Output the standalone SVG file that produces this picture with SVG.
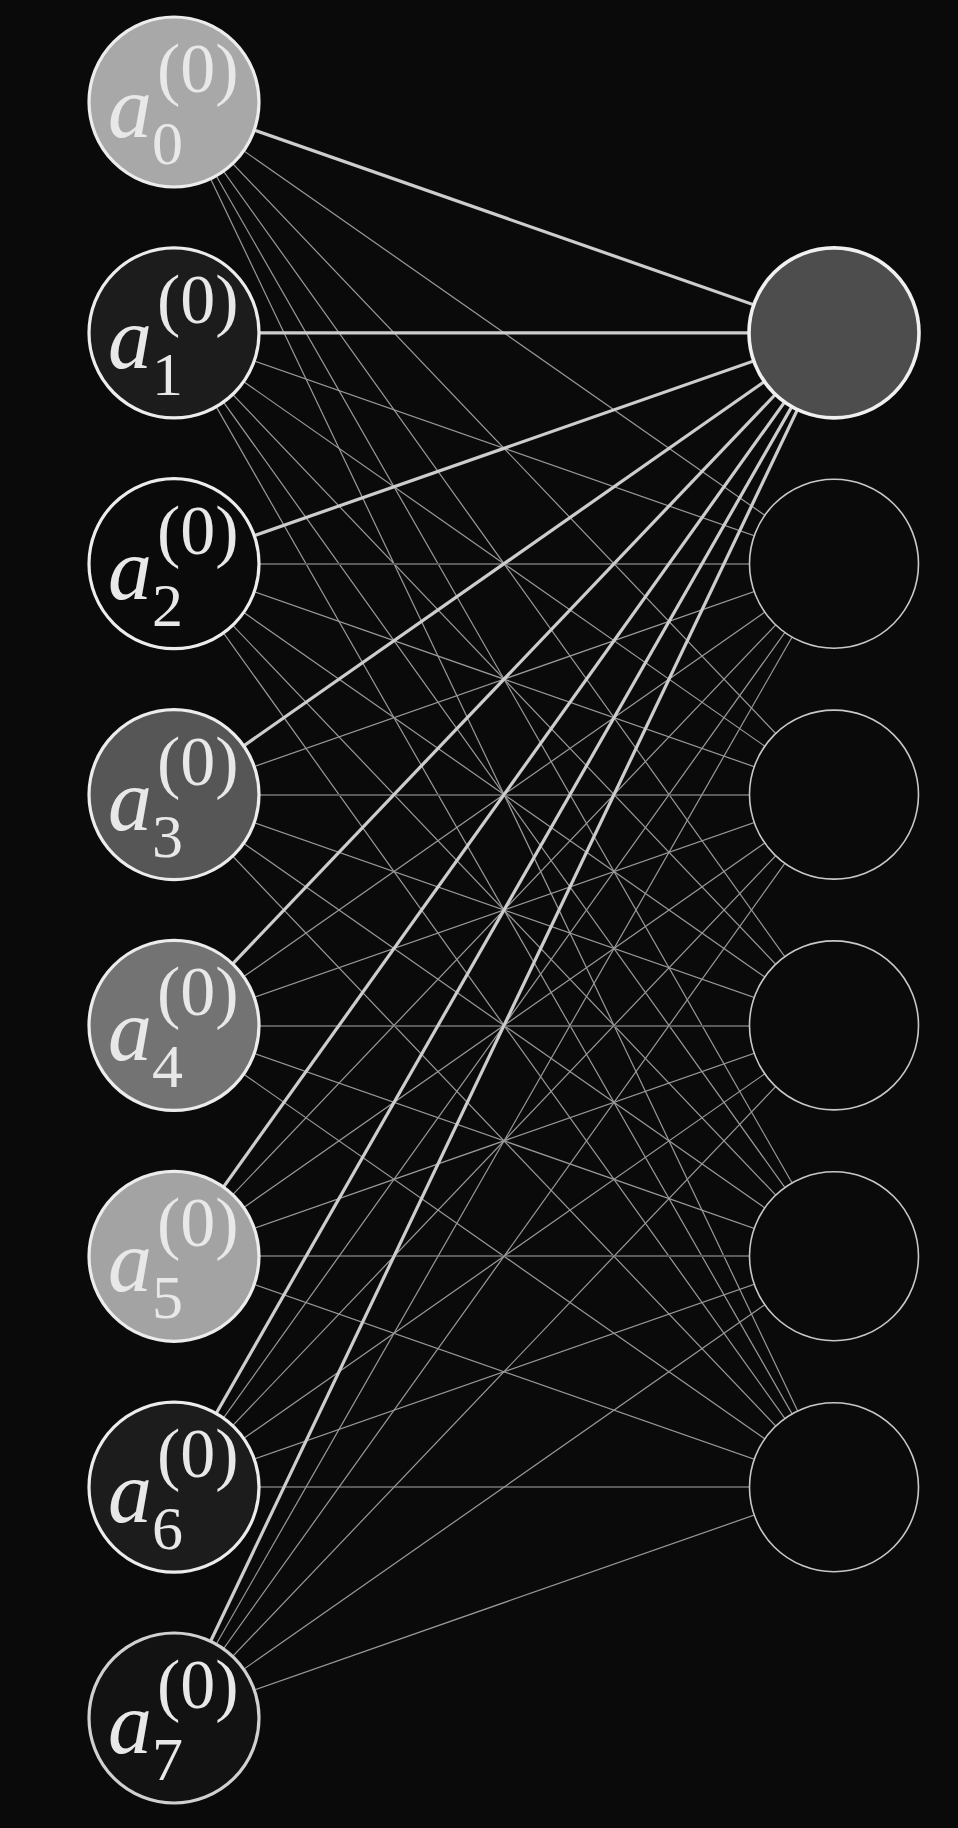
<svg xmlns="http://www.w3.org/2000/svg" width="958" height="1828" viewBox="0 0 958 1828">
<style>
.bg{fill:#0a0a0a}
.w{stroke:#9a9a9a;stroke-width:1.2;fill:none}
.h{stroke:#5a5a5a;stroke-width:1.8;fill:none}
.s{stroke:#cdcdcd;stroke-width:3.2;fill:none}
.in{stroke:#ececec;stroke-width:3.2}
.out{stroke:#c8c8c8;stroke-width:1.6;fill:#0a0a0a}
.out0{stroke:#f0f0f0;stroke-width:3.6;fill:#4d4d4d}
.a{font-family:"Liberation Serif",serif;font-style:italic;font-size:88px;fill:#e8e8e8}
.sub{font-family:"Liberation Serif",serif;font-size:62px;fill:#e8e8e8}
.sup{font-family:"Liberation Serif",serif;font-size:70px;fill:#e8e8e8}
</style>
<rect class="bg" x="0" y="0" width="958" height="1828"/>
<g id="connectors">
<line class="w" x1="174" y1="102" x2="834" y2="563.7"/>
<line class="w" x1="174" y1="102" x2="834" y2="794.6"/>
<line class="w" x1="174" y1="102" x2="834" y2="1025.4"/>
<line class="w" x1="174" y1="102" x2="834" y2="1256.3"/>
<line class="w" x1="174" y1="102" x2="834" y2="1487.2"/>
<line class="w" x1="174" y1="332.9" x2="834" y2="563.7"/>
<line class="w" x1="174" y1="332.9" x2="834" y2="794.6"/>
<line class="w" x1="174" y1="332.9" x2="834" y2="1025.4"/>
<line class="w" x1="174" y1="332.9" x2="834" y2="1256.3"/>
<line class="w" x1="174" y1="332.9" x2="834" y2="1487.2"/>
<line class="h" x1="174" y1="564" x2="834" y2="564"/>
<line class="w" x1="174" y1="563.7" x2="834" y2="794.6"/>
<line class="w" x1="174" y1="563.7" x2="834" y2="1025.4"/>
<line class="w" x1="174" y1="563.7" x2="834" y2="1256.3"/>
<line class="w" x1="174" y1="563.7" x2="834" y2="1487.2"/>
<line class="w" x1="174" y1="794.6" x2="834" y2="563.7"/>
<line class="h" x1="174" y1="795" x2="834" y2="795"/>
<line class="w" x1="174" y1="794.6" x2="834" y2="1025.4"/>
<line class="w" x1="174" y1="794.6" x2="834" y2="1256.3"/>
<line class="w" x1="174" y1="794.6" x2="834" y2="1487.2"/>
<line class="w" x1="174" y1="1025.4" x2="834" y2="563.7"/>
<line class="w" x1="174" y1="1025.4" x2="834" y2="794.6"/>
<line class="h" x1="174" y1="1026" x2="834" y2="1026"/>
<line class="w" x1="174" y1="1025.4" x2="834" y2="1256.3"/>
<line class="w" x1="174" y1="1025.4" x2="834" y2="1487.2"/>
<line class="w" x1="174" y1="1256.3" x2="834" y2="563.7"/>
<line class="w" x1="174" y1="1256.3" x2="834" y2="794.6"/>
<line class="w" x1="174" y1="1256.3" x2="834" y2="1025.4"/>
<line class="h" x1="174" y1="1256" x2="834" y2="1256"/>
<line class="w" x1="174" y1="1256.3" x2="834" y2="1487.2"/>
<line class="w" x1="174" y1="1487.2" x2="834" y2="563.7"/>
<line class="w" x1="174" y1="1487.2" x2="834" y2="794.6"/>
<line class="w" x1="174" y1="1487.2" x2="834" y2="1025.4"/>
<line class="w" x1="174" y1="1487.2" x2="834" y2="1256.3"/>
<line class="h" x1="174" y1="1487" x2="834" y2="1487"/>
<line class="w" x1="174" y1="1718" x2="834" y2="563.7"/>
<line class="w" x1="174" y1="1718" x2="834" y2="794.6"/>
<line class="w" x1="174" y1="1718" x2="834" y2="1025.4"/>
<line class="w" x1="174" y1="1718" x2="834" y2="1256.3"/>
<line class="w" x1="174" y1="1718" x2="834" y2="1487.2"/>
<line class="s" x1="174" y1="102" x2="834" y2="332.9"/>
<line class="s" x1="174" y1="332.9" x2="834" y2="332.9"/>
<line class="s" x1="174" y1="563.7" x2="834" y2="332.9"/>
<line class="s" x1="174" y1="794.6" x2="834" y2="332.9"/>
<line class="s" x1="174" y1="1025.4" x2="834" y2="332.9"/>
<line class="s" x1="174" y1="1256.3" x2="834" y2="332.9"/>
<line class="s" x1="174" y1="1487.2" x2="834" y2="332.9"/>
<line class="s" x1="174" y1="1718" x2="834" y2="332.9"/>
</g>
<g id="in0"><circle class="in" cx="174" cy="102" r="85" fill="#a8a8a8"/>
<text class="a" x="108" y="137">a</text><text class="sub" x="152" y="164">0</text><text class="sup" x="157" y="92">(0)</text></g>
<g id="in1"><circle class="in" cx="174" cy="332.9" r="85" fill="#1c1c1c"/>
<text class="a" x="108" y="367.9">a</text><text class="sub" x="152" y="394.9">1</text><text class="sup" x="157" y="322.9">(0)</text></g>
<g id="in2"><circle class="in" cx="174" cy="563.7" r="85" fill="#0a0a0a"/>
<text class="a" x="108" y="598.7">a</text><text class="sub" x="152" y="625.7">2</text><text class="sup" x="157" y="553.7">(0)</text></g>
<g id="in3"><circle class="in" cx="174" cy="794.6" r="85" fill="#565656"/>
<text class="a" x="108" y="829.6">a</text><text class="sub" x="152" y="856.6">3</text><text class="sup" x="157" y="784.6">(0)</text></g>
<g id="in4"><circle class="in" cx="174" cy="1025.4" r="85" fill="#737373"/>
<text class="a" x="108" y="1060.4">a</text><text class="sub" x="152" y="1087.4">4</text><text class="sup" x="157" y="1015.4">(0)</text></g>
<g id="in5"><circle class="in" cx="174" cy="1256.3" r="85" fill="#a3a3a3"/>
<text class="a" x="108" y="1291.3">a</text><text class="sub" x="152" y="1318.3">5</text><text class="sup" x="157" y="1246.3">(0)</text></g>
<g id="in6"><circle class="in" cx="174" cy="1487.2" r="85" fill="#1c1c1c"/>
<text class="a" x="108" y="1522.2">a</text><text class="sub" x="152" y="1549.2">6</text><text class="sup" x="157" y="1477.2">(0)</text></g>
<g id="in7"><circle class="in" cx="174" cy="1718" r="85" fill="#121212" style="stroke:#d0d0d0"/>
<text class="a" x="108" y="1753">a</text><text class="sub" x="152" y="1780">7</text><text class="sup" x="157" y="1708">(0)</text></g>
<g id="out0"><circle class="out0" cx="834" cy="332.9" r="85"/></g>
<g id="out1"><circle class="out" cx="834" cy="563.7" r="84.5"/></g>
<g id="out2"><circle class="out" cx="834" cy="794.6" r="84.5"/></g>
<g id="out3"><circle class="out" cx="834" cy="1025.4" r="84.5"/></g>
<g id="out4"><circle class="out" cx="834" cy="1256.3" r="84.5"/></g>
<g id="out5"><circle class="out" cx="834" cy="1487.2" r="84.5"/></g>
</svg>
